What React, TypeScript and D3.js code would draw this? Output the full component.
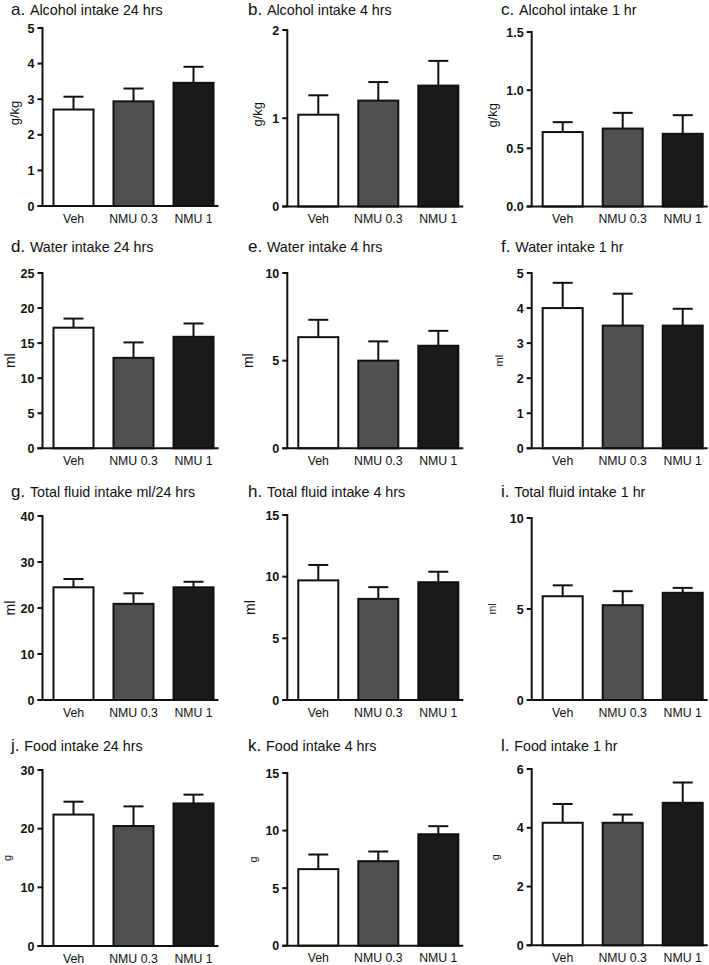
import React, { useEffect, useRef } from "react";
import * as d3 from "d3";

const categories = ["Veh", "NMU 0.3", "NMU 1"];
const letters = ["a", "b", "c", "d", "e", "f", "g", "h", "i", "j", "k", "l"];
const titles = [
  "Alcohol intake 24 hrs", "Alcohol intake 4 hrs", "Alcohol intake 1 hr",
  "Water intake 24 hrs", "Water intake 4 hrs", "Water intake 1 hr",
  "Total fluid intake ml/24 hrs", "Total fluid intake 4 hrs", "Total fluid intake 1 hr",
  "Food intake 24 hrs", "Food intake 4 hrs", "Food intake 1 hr",
];
const yLabels = ["g/kg", "g/kg", "g/kg", "ml", "ml", "ml", "ml", "ml", "ml", "g", "g", "g"];
const yMax = [5, 2, 1.5, 25, 10, 5, 40, 15, 10, 30, 15, 6];
const yStep = [1, 1, 0.5, 5, 5, 1, 10, 5, 5, 10, 5, 2];
const yDecimals = [0, 0, 1, 0, 0, 0, 0, 0, 0, 0, 0, 0];

// means and upper error bar (mean + SEM)
const alcohol24 = [2.71, 2.94, 3.46];
const alcohol24Top = [3.07, 3.3, 3.91];
const alcohol4 = [1.04, 1.2, 1.37];
const alcohol4Top = [1.26, 1.41, 1.65];
const alcohol1 = [0.64, 0.67, 0.625];
const alcohol1Top = [0.725, 0.805, 0.785];
const water24 = [17.2, 12.9, 15.9];
const water24Top = [18.5, 15.1, 17.8];
const water4 = [6.34, 5.0, 5.85];
const water4Top = [7.33, 6.1, 6.7];
const water1 = [4.0, 3.5, 3.5];
const water1Top = [4.72, 4.41, 3.98];
const fluid24 = [24.5, 20.9, 24.5];
const fluid24Top = [26.3, 23.2, 25.7];
const fluid4 = [9.7, 8.2, 9.55];
const fluid4Top = [10.95, 9.15, 10.4];
const fluid1 = [5.7, 5.21, 5.89];
const fluid1Top = [6.3, 5.98, 6.16];
const food24 = [22.4, 20.45, 24.3];
const food24Top = [24.6, 23.8, 25.8];
const food4 = [6.65, 7.34, 9.68];
const food4Top = [7.92, 8.18, 10.38];
const food1 = [4.17, 4.17, 4.85];
const food1Top = [4.81, 4.45, 5.54];

const means = [alcohol24, alcohol4, alcohol1, water24, water4, water1, fluid24, fluid4, fluid1, food24, food4, food1];
const tops = [alcohol24Top, alcohol4Top, alcohol1Top, water24Top, water4Top, water1Top, fluid24Top, fluid4Top, fluid1Top, food24Top, food4Top, food1Top];

// layout
const colAxisX = [42.5, 287.3, 531.7];
const colTitleX = [11, 248, 501];
const panelTop = [28, 30, 32, 273, 273, 273, 516, 515, 518, 770, 773, 769];
const panelBottom = [206, 206.5, 206.5, 448.3, 448.3, 448.3, 700, 700, 700, 946, 945.7, 945.3];
const rowTitleY = [14.5, 251.5, 496.5, 750.5];
const yLabelX = [14, 257, 492, 10, 248, 499, 10, 250, 492, 7, 253, 495];
const yLabelSize = [13, 13, 13, 14, 14, 11, 14, 14, 10.5, 11, 11, 11];
const barFills = ["#ffffff", "#505050", "#1a1a1a"];
const FONT = "'Liberation Sans', Arial, Helvetica, sans-serif";

export default function App() {
  const ref = useRef<SVGSVGElement | null>(null);

  useEffect(() => {
    document.body.style.margin = "0";
    const svg = d3.select(ref.current);
    svg.selectAll("*").remove();

    letters.forEach((letter, i) => {
      const col = i % 3;
      const row = Math.floor(i / 3);
      const ax = colAxisX[col];
      const g = svg.append("g");

      const x = d3
        .scaleBand<string>()
        .domain(categories)
        .range([ax, ax + 182])
        .paddingInner(1 / 3)
        .paddingOuter(0.183);
      const y = d3.scaleLinear().domain([0, yMax[i]]).range([panelBottom[i], panelTop[i]]);

      // title
      const t = g
        .append("text")
        .attr("x", colTitleX[col])
        .attr("y", rowTitleY[row])
        .attr("font-family", FONT)
        .attr("fill", "#111");
      t.append("tspan").attr("font-size", 17).text(letter + ". ");
      t.append("tspan").attr("font-size", 14.3).text(titles[i]);

      // bars
      categories.forEach((c, k) => {
        const x0 = x(c)!;
        const bw = x.bandwidth();
        const cx = x0 + bw / 2;
        g.append("line")
          .attr("x1", cx).attr("x2", cx)
          .attr("y1", y(means[i][k])).attr("y2", y(tops[i][k]))
          .attr("stroke", "#111").attr("stroke-width", 2);
        g.append("line")
          .attr("x1", cx - 10).attr("x2", cx + 10)
          .attr("y1", y(tops[i][k])).attr("y2", y(tops[i][k]))
          .attr("stroke", "#111").attr("stroke-width", 2);
        g.append("rect")
          .attr("x", x0)
          .attr("y", y(means[i][k]))
          .attr("width", bw)
          .attr("height", y(0) - y(means[i][k]))
          .attr("fill", barFills[k])
          .attr("stroke", "#111")
          .attr("stroke-width", 2);
        g.append("text")
          .attr("x", cx)
          .attr("y", panelBottom[i] + 16.5)
          .attr("text-anchor", "middle")
          .attr("font-family", FONT)
          .attr("font-size", 12.3)
          .attr("fill", "#111")
          .text(c);
      });

      // y axis
      const ticks = d3.range(0, yMax[i] + yStep[i] / 2, yStep[i]);
      g.append("line")
        .attr("x1", ax).attr("x2", ax)
        .attr("y1", y(yMax[i]) - 1).attr("y2", y(0))
        .attr("stroke", "#111").attr("stroke-width", 2);
      ticks.forEach((v) => {
        g.append("line")
          .attr("x1", ax - 5).attr("x2", ax)
          .attr("y1", y(v)).attr("y2", y(v))
          .attr("stroke", "#111").attr("stroke-width", 2);
        g.append("text")
          .attr("x", ax - 8)
          .attr("y", y(v))
          .attr("dy", "0.36em")
          .attr("text-anchor", "end")
          .attr("font-family", FONT)
          .attr("font-weight", "bold")
          .attr("font-size", 12.5)
          .attr("fill", "#111")
          .text(d3.format(`.${yDecimals[i]}f`)(v));
      });
      // x axis
      g.append("line")
        .attr("x1", ax - 5).attr("x2", ax + 176)
        .attr("y1", y(0)).attr("y2", y(0))
        .attr("stroke", "#111").attr("stroke-width", 2);

      // y label
      const my = (panelTop[i] + panelBottom[i]) / 2 - (row === 0 ? 4 : 0);
      g.append("text")
        .attr("transform", `translate(${yLabelX[i]},${my}) rotate(-90)`)
        .attr("text-anchor", "middle")
        .attr("dy", "0.35em")
        .attr("font-family", FONT)
        .attr("font-size", yLabelSize[i])
        .attr("fill", "#111")
        .text(yLabels[i]);
    });
  }, []);

  return <svg ref={ref} width={709} height={965} style={{ display: "block", background: "#fff" }} />;
}
